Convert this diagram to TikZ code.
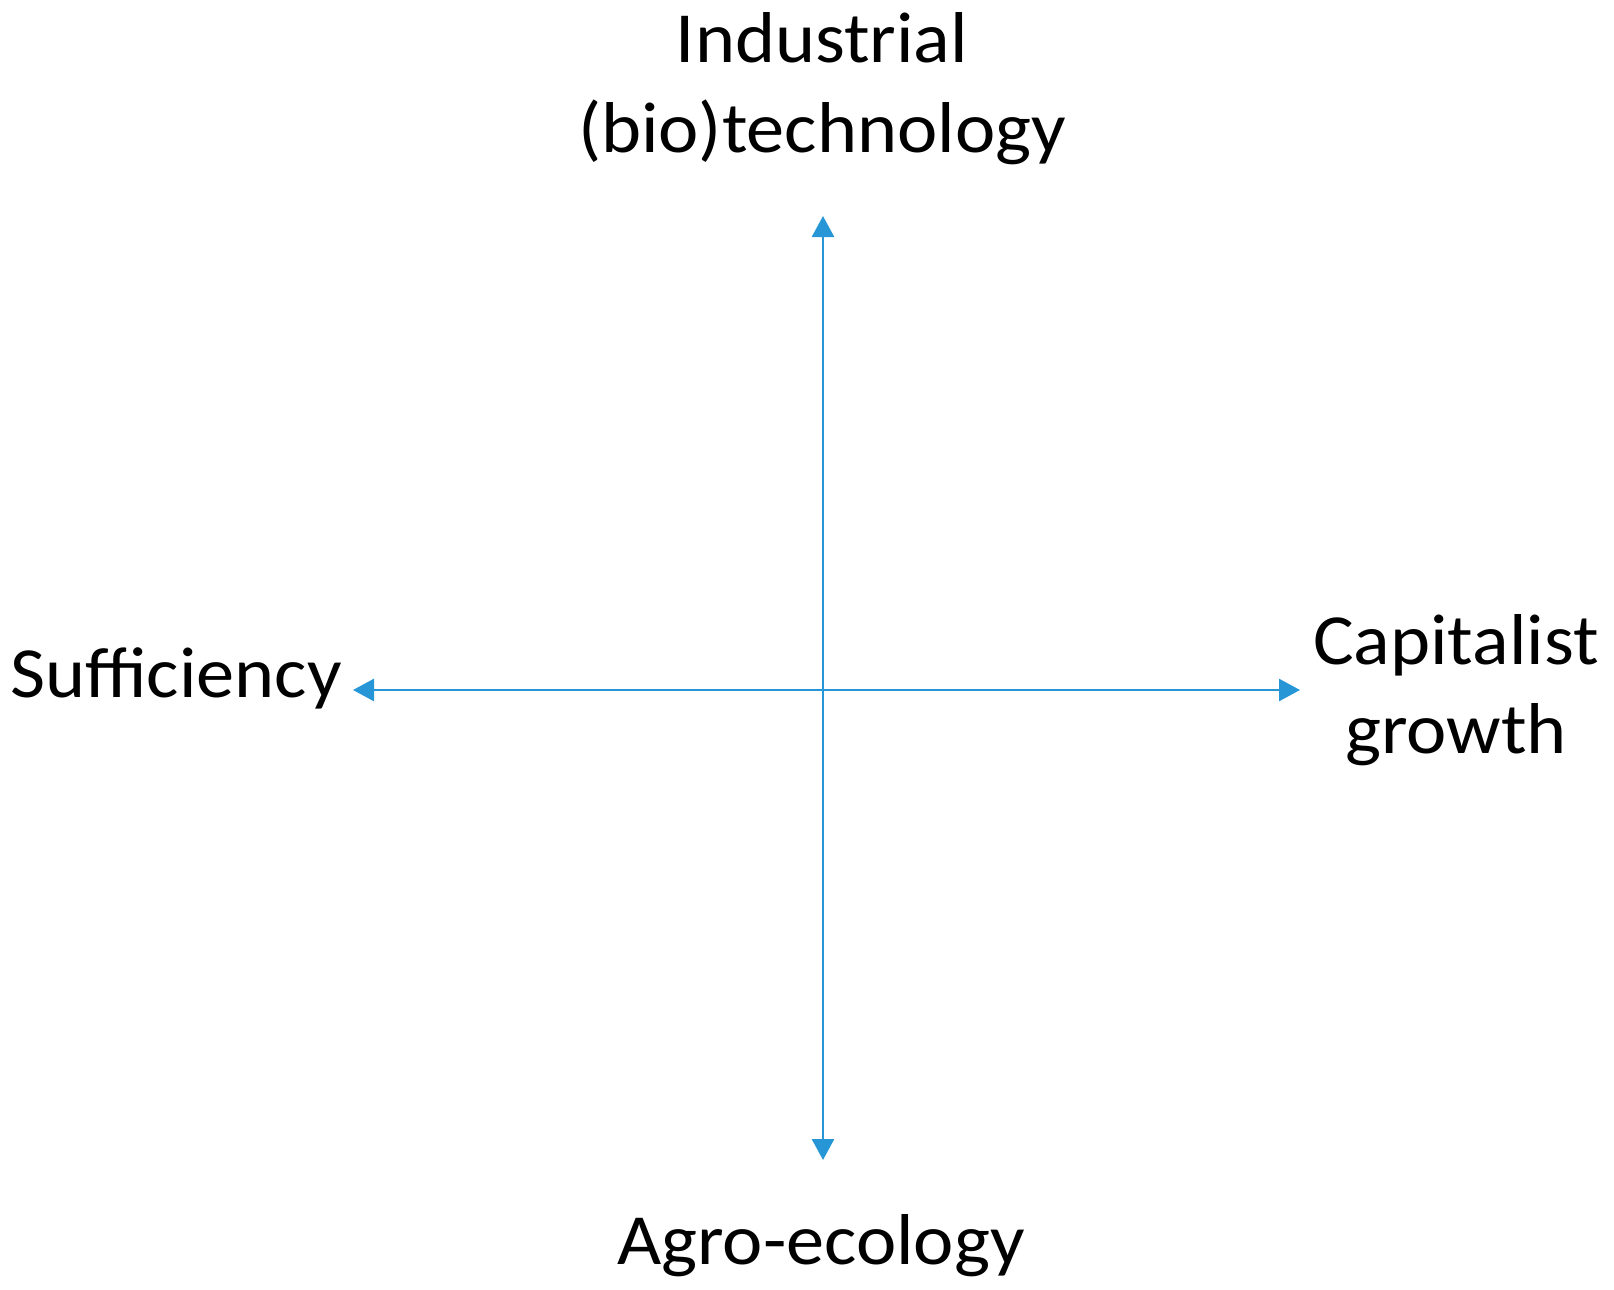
\documentclass[tikz,border=0pt]{standalone}
\usepackage{fontspec}
\setmainfont[FakeStretch=1.06]{Carlito}
\usetikzlibrary{arrows.meta}
\definecolor{axisblue}{RGB}{38,150,214}
\begin{document}
\begin{tikzpicture}[x=1pt,y=-1pt,
  lbl/.style={font=\fontsize{72}{88}\selectfont, inner sep=0pt, text=black},
  axis/.style={draw=axisblue, line width=2.6pt, {Triangle[length=21pt,width=22pt]}-{Triangle[length=21pt,width=22pt]}}]
\useasboundingbox (0,0) rectangle (1614,1290);
\coordinate (top) at (823,216);
\coordinate (bot) at (823,1160);
\coordinate (lft) at (353,690);
\coordinate (rgt) at (1300,690);
\draw[axis] (top) -- (bot);
\draw[axis] (lft) -- (rgt);
\node[lbl, anchor=base] (ind) at (822,63) {Industrial};
\node[lbl, anchor=base] (bio) at (822,152) {(bio)technology};
\node[lbl, anchor=base west] (suf) at (10,697) {Sufficiency};
\node[lbl, anchor=base] (cap) at (1456,664) {Capitalist};
\node[lbl, anchor=base] (gro) at (1456,753) {growth};
\node[lbl, anchor=base] (agro) at (821,1264) {Agro-ecology};
\end{tikzpicture}
\end{document}
